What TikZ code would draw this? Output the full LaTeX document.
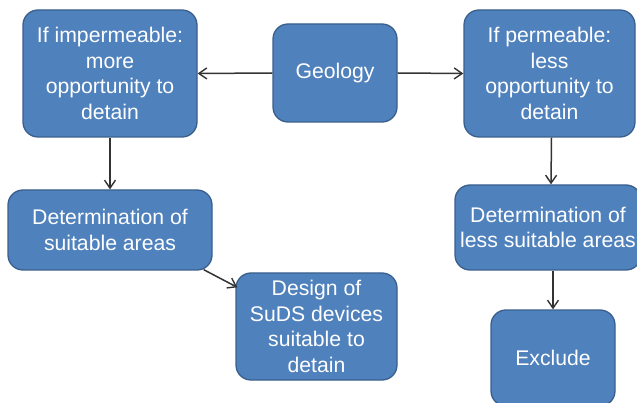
\documentclass[tikz,border=0pt]{standalone}
\usepackage{fontspec}
\setmainfont{Liberation Sans}
\usetikzlibrary{arrows.meta,calc}
\definecolor{boxfill}{HTML}{4F81BD}
\definecolor{boxline}{HTML}{3A5F8C}
\definecolor{arrowcol}{HTML}{333333}
\tikzset{
  box/.style={draw=boxline, fill=boxfill, line width=1.3pt, rounded corners=15pt,
    text=white, align=center, inner sep=0pt,
    font=\fontsize{21.2}{25.5}\selectfont},
  conn/.style={draw=arrowcol, line width=1.5pt,
    -{Straight Barb[length=8pt,width=11pt,line width=1.4pt]}}
}
\begin{document}
\begin{tikzpicture}[x=1pt,y=-1pt]
\useasboundingbox (0,0) rectangle (637,403);
\clip (0,0) rectangle (637,403);
\node[box, minimum width=174pt, minimum height=127pt] (A) at (110,73.5)
  {If impermeable:\\more\\opportunity to\\detain};
\node[box, minimum width=124pt, minimum height=98pt] (geo) at (335,73) {Geology};
\node[box, minimum width=171pt, minimum height=127pt] (C) at (549.5,73.5)
  {If permeable:\\less\\opportunity to\\detain};
\node[box, minimum width=204pt, minimum height=80pt] (D) at (110,230)
  {Determination of\\suitable areas};
\node[box, minimum width=161pt, minimum height=107pt] (E) at (316.5,326.5)
  {Design of\\SuDS devices\\suitable to\\detain};
\node[box, minimum width=186pt, minimum height=85pt] (F) at (548,227.5)
  {Determination of\\less suitable areas};
\node[box, minimum width=124pt, minimum height=96pt] (G) at (553,358) {Exclude};
\draw[conn] (geo.west) -- (A.east);
\draw[conn] (geo.east) -- (C.west);
\draw[conn] (A.south) -- (D.north);
\draw[conn] ($(C.south)+(2,0)$) -- ($(F.north)+(3,0)$);
\draw[conn] (G.north |- F.south) -- (G.north);
\draw[conn] ($(D.south east)+(-9,-1)$) -- ($(E.north west)+(2,15)$);
\end{tikzpicture}
\end{document}
